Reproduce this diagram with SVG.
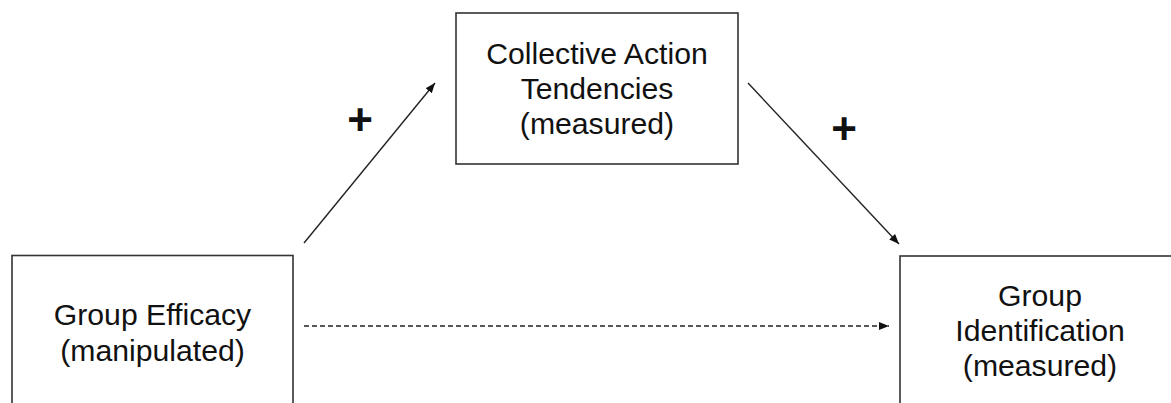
<svg xmlns="http://www.w3.org/2000/svg" width="1171" height="403" viewBox="0 0 1171 403">
<style>
.box{fill:#fff;stroke:#333;stroke-width:1.6}
.t{font-family:"Liberation Sans",Arial,sans-serif;font-size:30.2px;fill:#111;text-anchor:middle}
.plus{font-family:"Liberation Sans",Arial,sans-serif;font-size:44px;font-weight:bold;fill:#111;text-anchor:middle}
.ln{stroke:#222;stroke-width:1.4;fill:none}
</style>
<defs>
<marker id="ah" viewBox="0 0 10 8" refX="10" refY="4" markerWidth="10" markerHeight="8" markerUnits="userSpaceOnUse" orient="auto">
<path d="M0,0 L10,4 L0,8 Z" fill="#111"/>
</marker>
</defs>
<rect width="1171" height="403" fill="#fff"/>
<g id="node-efficacy">
<rect class="box" x="12" y="255.5" width="281" height="170"/>
<text class="t" x="152.5" y="325">Group Efficacy</text>
<text class="t" x="152.5" y="361">(manipulated)</text>
</g>
<g id="node-collective">
<rect class="box" x="456" y="13" width="282" height="151"/>
<text class="t" x="597" y="64">Collective Action</text>
<text class="t" x="597" y="99">Tendencies</text>
<text class="t" x="597" y="134">(measured)</text>
</g>
<g id="node-identification">
<rect class="box" x="900" y="256" width="281" height="170"/>
<text class="t" x="1040" y="306">Group</text>
<text class="t" x="1040" y="341">Identification</text>
<text class="t" x="1040" y="376">(measured)</text>
</g>
<g id="connectors">
<line class="ln" x1="304" y1="243" x2="435" y2="83" marker-end="url(#ah)"/>
<line class="ln" x1="748" y1="83" x2="899" y2="244" marker-end="url(#ah)"/>
<line class="ln" x1="304" y1="326" x2="889" y2="326" stroke-dasharray="5,3" marker-end="url(#ah)"/>
<text class="plus" x="360" y="134.5">+</text>
<text class="plus" x="844" y="143.5">+</text>
</g>
</svg>
